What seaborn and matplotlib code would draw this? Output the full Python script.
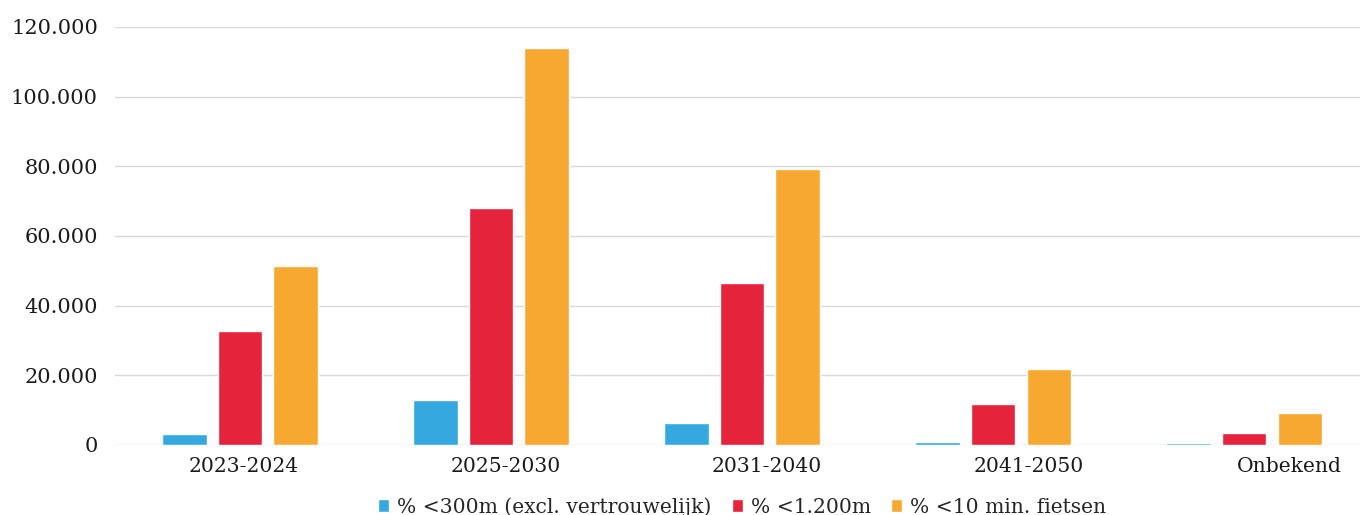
import matplotlib
matplotlib.use("Agg")
import matplotlib.pyplot as plt
import matplotlib.ticker as mticker
from matplotlib.transforms import ScaledTranslation
import seaborn as sns
import pandas as pd

periods = ["2023-2024", "2025-2030", "2031-2040", "2041-2050", "Onbekend"]
series_names = ["% <300m (excl. vertrouwelijk)", "% <1.200m", "% <10 min. fietsen"]
within_300m = [3150, 12900, 6300, 900, 500]
within_1200m = [32700, 68000, 46500, 11800, 3400]
within_10min_bike = [51400, 113900, 79200, 21800, 9200]
colors = ["#35A8E0", "#E5243B", "#F7A830"]

df = pd.DataFrame({
    "periode": periods * 3,
    "reeks": [series_names[0]] * 5 + [series_names[1]] * 5 + [series_names[2]] * 5,
    "aantal": within_300m + within_1200m + within_10min_bike,
})

sns.set_theme(style="white")
plt.rcParams["font.family"] = ["DejaVu Serif", "DejaVu Sans"]

fig = plt.figure(figsize=(13.6, 5.15), dpi=100)
ax = fig.add_axes([0.0842, 0.136, 0.9228, 0.8116])

sns.barplot(data=df, x="periode", y="aantal", hue="reeks", order=periods,
            hue_order=series_names, palette=colors, width=0.667, gap=0.2,
            saturation=1, ax=ax, legend=True, zorder=3)

ax.set_ylim(0, 120000)
ax.set_xlim(-0.5, 4.5)
ax.yaxis.set_major_locator(mticker.MultipleLocator(20000))
ax.yaxis.set_major_formatter(mticker.FuncFormatter(
    lambda v, p: f"{int(v):,}".replace(",", ".")))
ax.grid(axis="y", color="#D9D9D9", linewidth=1, zorder=0)
ax.set_axisbelow(True)
for s in ax.spines.values():
    s.set_visible(False)
ax.tick_params(axis="both", length=0, labelsize=15, colors="#1a1a1a")
ax.tick_params(axis="x", labelsize=14.6, pad=9)
ax.tick_params(axis="y", pad=12)
ax.set_xlabel("")
ax.set_ylabel("")

# period labels drift slightly to the right across the axis
for i, lbl in enumerate(ax.get_xticklabels()):
    lbl.set_transform(lbl.get_transform() +
                      ScaledTranslation((3 + 7.5 * i) / 72, 0, fig.dpi_scale_trans))

handles, labels = ax.get_legend_handles_labels()
ax.legend(handles, labels, loc="upper center", bbox_to_anchor=(0.5, -0.105),
          ncol=3, frameon=False, fontsize=14.6, handlelength=0.55, handleheight=0.55,
          handletextpad=0.4, columnspacing=1.0, borderaxespad=0)

fig.savefig("out.png", dpi=100)
